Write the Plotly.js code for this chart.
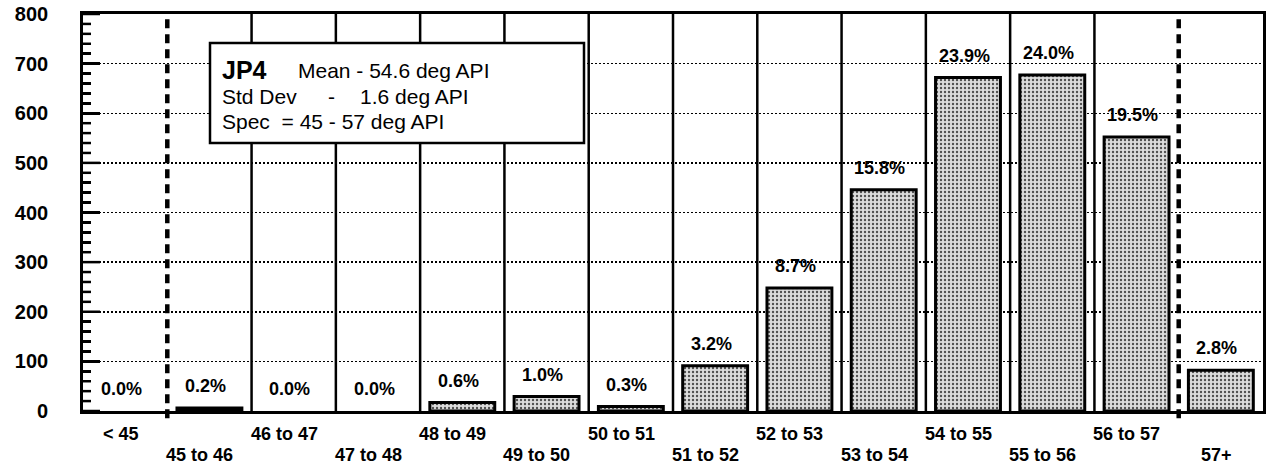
<!DOCTYPE html>
<html>
<head>
<meta charset="utf-8">
<script src="https://cdn.plot.ly/plotly-3.0.1.min.js"></script>
<style>
  html, body { margin: 0; padding: 0; background: #fff; }
  #chart { width: 1267px; height: 466px; }
</style>
</head>
<body>
<div id="chart"></div>
<script>
// ---- data ----
const categories = ['< 45', '45 to 46', '46 to 47', '47 to 48', '48 to 49', '49 to 50', '50 to 51',
                    '51 to 52', '52 to 53', '53 to 54', '54 to 55', '55 to 56', '56 to 57', '57+'];
const counts = [0, 6, 0, 0, 17, 29, 9, 91, 248, 446, 672, 677, 552, 82];
const percentLabels = ['0.0%', '0.2%', '0.0%', '0.0%', '0.6%', '1.0%', '0.3%', '3.2%', '8.7%',
                       '15.8%', '23.9%', '24.0%', '19.5%', '2.8%'];
const yRange = [0, 800];
const yMajorStep = 100;
const yMinorStep = 20;
const specLowCategory = '45 to 46';   // first in-spec bin
const specHighCategory = '56 to 57';  // last in-spec bin
const infoTitle = 'JP4';
const infoLines = ['Mean - 54.6 deg API', 'Std Dev', '-', '1.6 deg API', 'Spec  = 45 - 57 deg API'];

// ---- geometry helpers ----
const W = 1267, H = 466;
const M = { l: 83, r: 4, t: 14, b: 55 };
const plotW = W - M.l - M.r, plotH = H - M.t - M.b;
const px = x => (x - M.l) / plotW;        // page px -> paper x
const py = y => (H - M.b - y) / plotH;    // page px -> paper y
const halfCat = plotW / categories.length / 2;
const FONT = 'Liberation Sans, Arial, Helvetica, sans-serif';
const NBSP = '\u00a0';

const trace = {
  type: 'bar',
  x: categories,
  y: counts.map(v => (v === 0 ? null : v)),   // empty bins draw no bar
  marker: {
    color: '#c4c4c4',
    line: { color: '#000', width: 3 },
    pattern: { shape: '.', fgcolor: '#505050', bgcolor: '#dcdcdc', size: 4, solidity: 0.28 }
  },
  hoverinfo: 'skip'
};

const shapes = [];
// y-axis comb ticks (inside): major every yMajorStep, minor every yMinorStep
for (let v = yRange[0]; v <= yRange[1]; v += yMinorStep) {
  const major = (v % yMajorStep === 0);
  shapes.push({
    type: 'line', xref: 'paper', yref: 'y',
    x0: 0, x1: (major ? 17 : 8) / plotW, y0: v, y1: v,
    line: { color: '#000', width: 2.5 }, layer: 'above'
  });
}
// separators between bins
for (let i = 0; i < categories.length - 1; i++) {
  const isSpec = (categories[i + 1] === specLowCategory) || (categories[i] === specHighCategory);
  shapes.push({
    type: 'line', xref: 'x', yref: 'paper',
    x0: i + 0.5, x1: i + 0.5,
    y0: isSpec ? -0.018 : 0, y1: 1,
    line: isSpec ? { color: '#000', width: 4.5, dash: '9px,6px' } : { color: '#000', width: 2.5 },
    layer: 'above'
  });
}
// info box
shapes.push({
  type: 'rect', xref: 'paper', yref: 'paper',
  x0: px(210), x1: px(584), y0: py(143), y1: py(43),
  fillcolor: '#fff', line: { color: '#000', width: 2.5 }, layer: 'above'
});

const annotations = [];
// percentage labels above bars
categories.forEach((c, i) => {
  annotations.push({
    x: c, y: counts[i], xref: 'x', yref: 'y',
    text: percentLabels[i], showarrow: false,
    xanchor: 'center', yanchor: 'bottom', xshift: -4, yshift: 10,
    font: { family: FONT, size: 18, color: '#000', weight: 'bold' }
  });
});
// staggered category labels
categories.forEach((c, i) => {
  const range = c.indexOf(' to ') >= 0;
  annotations.push({
    x: c, y: 0, xref: 'x', yref: 'y',
    text: c, showarrow: false,
    xanchor: range ? 'left' : 'center', yanchor: 'middle',
    xshift: range ? -halfCat - 3 : -4,
    yshift: (i % 2 === 0) ? -23 : -44,
    font: { family: FONT, size: 18, color: '#000', weight: 'bold' }
  });
});
// info box text
const boxText = (text, x, y, size, bold) => annotations.push({
  xref: 'paper', yref: 'paper', x: px(x), y: py(y), text: text, showarrow: false,
  xanchor: 'left', yanchor: 'middle',
  font: { family: FONT, size: size, color: '#000', weight: bold ? 'bold' : 'normal' }
});
boxText(infoTitle, 220, 70, 25, true);
boxText(infoLines[0], 296, 70, 21, false);
boxText(infoLines[1], 220, 96, 21, false);
boxText(infoLines[2], 326, 96, 21, false);
boxText(infoLines[3], 358, 96, 21, false);
boxText(infoLines[4], 220, 121, 21, false);

const layout = {
  width: W, height: H,
  margin: M,
  paper_bgcolor: '#fff', plot_bgcolor: '#fff',
  showlegend: false,
  bargap: 0.23,
  font: { family: FONT, color: '#000' },
  xaxis: {
    type: 'category',
    range: [-0.5, categories.length - 0.5],
    showticklabels: false, ticks: '',
    showgrid: false, zeroline: false,
    showline: true, mirror: true, linecolor: '#000', linewidth: 3
  },
  yaxis: {
    range: yRange,
    tickmode: 'linear', tick0: 0, dtick: yMajorStep,
    ticks: 'inside', ticklen: 17, tickwidth: 2.5, tickcolor: '#000',
    minor: { dtick: yMinorStep, ticks: 'inside', ticklen: 8, tickwidth: 2.5, tickcolor: '#000' },
    ticksuffix: NBSP.repeat(5),
    tickfont: { family: FONT, size: 20, color: '#000', weight: 'bold' },
    showgrid: true, gridcolor: '#000', gridwidth: 1.5, griddash: '2px,2px',
    zeroline: false,
    showline: true, mirror: true, linecolor: '#000', linewidth: 3
  },
  shapes: shapes,
  annotations: annotations
};

Plotly.newPlot('chart', [trace], layout, { staticPlot: true, displayModeBar: false });
</script>
</body>
</html>
